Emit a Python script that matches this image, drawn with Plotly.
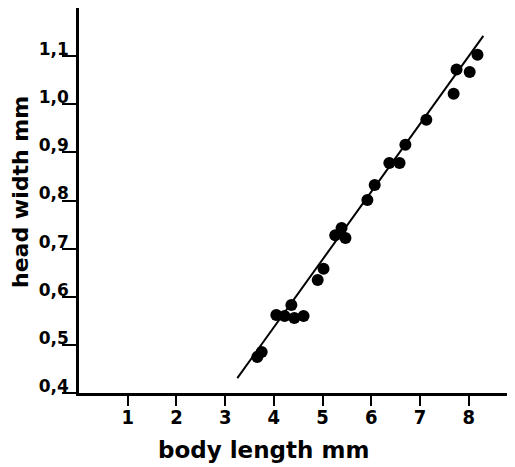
import plotly.graph_objects as go

# Data
body_length = [3.66, 3.75, 4.05, 4.22, 4.36, 4.42, 4.61, 4.90, 5.02,
               5.26, 5.39, 5.47, 5.92, 6.07, 6.37, 6.58, 6.70, 7.13,
               7.69, 7.75, 8.02, 8.18]
head_width = [0.475, 0.485, 0.562, 0.560, 0.583, 0.556, 0.560, 0.635, 0.658,
              0.728, 0.743, 0.722, 0.801, 0.832, 0.878, 0.878, 0.916, 0.968,
              1.022, 1.072, 1.067, 1.103]
fit_x = [3.25, 8.30]
fit_y = [0.431, 1.142]

x_ticks = [1, 2, 3, 4, 5, 6, 7, 8]
x_ticktext = ["1", "2", "3", "4", "5", "6", "7", "8"]
y_ticks = [0.4, 0.5, 0.6, 0.7, 0.8, 0.9, 1.0, 1.1]
y_ticktext = ["0,4", "0,5", "0,6", "0,7", "0,8", "0,9", "1,0", "1,1"]

x_title = "body length mm"
y_title = "head width mm"

fig = go.Figure()
fig.add_trace(go.Scatter(x=fit_x, y=fit_y, mode="lines",
                         line=dict(color="black", width=2), showlegend=False,
                         hoverinfo="skip"))
fig.add_trace(go.Scatter(x=body_length, y=head_width, mode="markers",
                         marker=dict(color="black", size=12), showlegend=False))

bold = "DejaVu Sans"
fig.update_layout(
    width=507, height=459,
    margin=dict(l=71, r=0, t=0, b=74),
    paper_bgcolor="white", plot_bgcolor="white",
    font=dict(family=bold, color="black"),
    xaxis=dict(range=[0, 8.95], tickvals=x_ticks, ticktext=x_ticktext,
               automargin=False,
               showgrid=False, zeroline=False, showline=True,
               linecolor="black", linewidth=2.5, ticks="outside",
               ticklen=10, tickwidth=2, tickcolor="black",
               ticklabelstandoff=-6,
               tickfont=dict(family="DejaVu Sans Condensed, DejaVu Sans", size=20,
                             color="black", weight="bold")),
    yaxis=dict(range=[0.4, 1.2], tickvals=y_ticks, ticktext=y_ticktext,
               automargin=False,
               showgrid=False, zeroline=False, showline=True,
               linecolor="black", linewidth=2.5, ticks="outside",
               ticklen=14, tickwidth=2, tickcolor="black",
               ticklabelshift=-7, ticklabelstandoff=-10,
               tickfont=dict(family=bold, size=17, color="black", weight="bold")),
    annotations=[
        dict(text=x_title, xref="paper", yref="paper", x=(255 - 71) / 436,
             y=-(442 - 385) / 385, xanchor="center", yanchor="middle",
             showarrow=False, font=dict(family=bold, size=23, weight="bold")),
        dict(text=y_title, xref="paper", yref="paper", x=(12 - 71) / 436,
             y=(385 - 184) / 385, xanchor="center", yanchor="middle",
             textangle=-90, showarrow=False, borderpad=0,
             font=dict(family=bold, size=22, weight="bold")),
    ],
)

fig.write_html("out.html")
